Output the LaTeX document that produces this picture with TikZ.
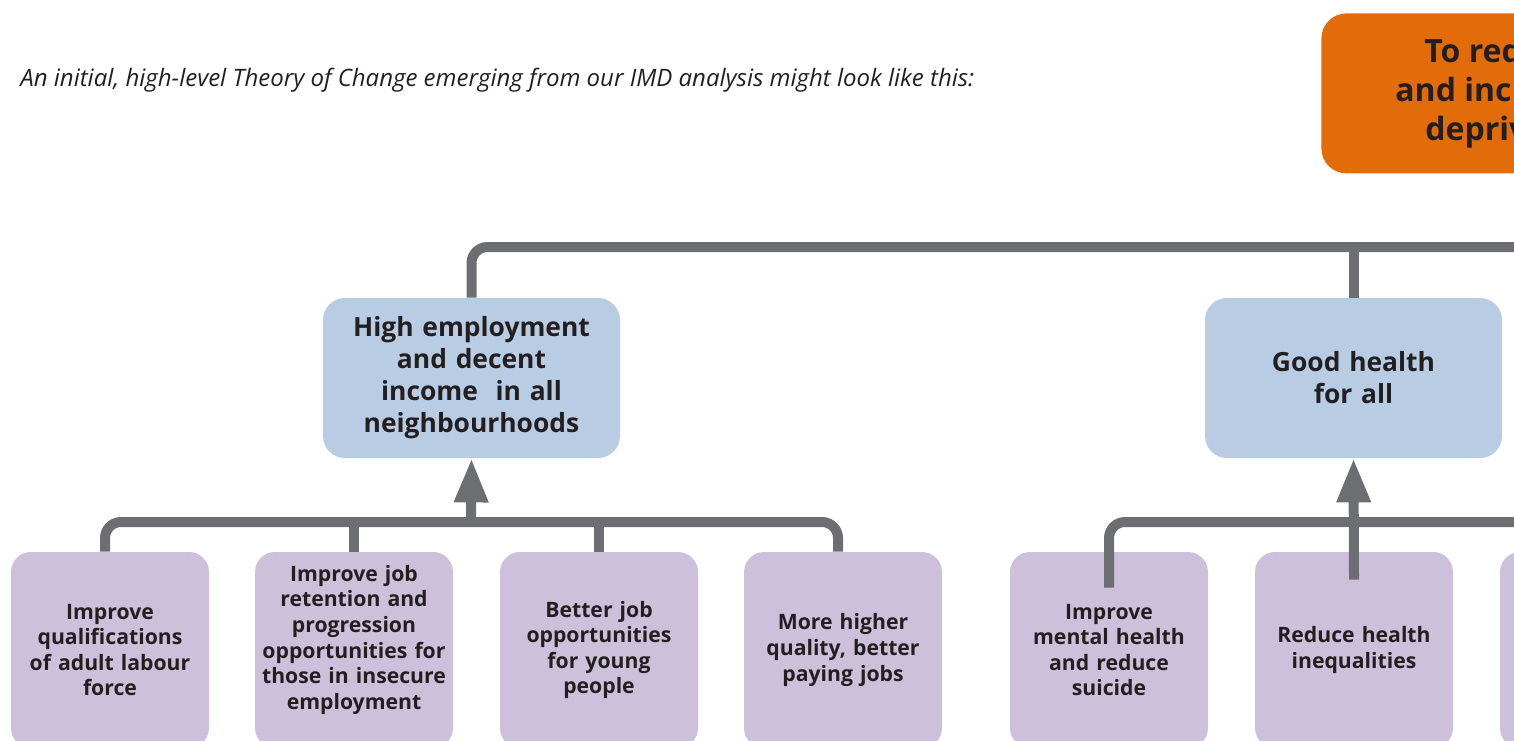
\documentclass[tikz,border=0pt]{standalone}
\usepackage{fontspec}
\setmainfont{Open Sans}
\usetikzlibrary{arrows.meta}
\definecolor{goal}{HTML}{E36C0A}
\definecolor{outcome}{HTML}{B8CCE4}
\definecolor{action}{HTML}{CCC0DA}
\definecolor{link}{HTML}{6D6E71}
\definecolor{ink}{HTML}{231F20}

\begin{document}
\begin{tikzpicture}[x=0.5pt,y=-0.5pt,
    every node/.style={text=ink},
    outbox/.style={fill=outcome,rounded corners=11pt,minimum width=148.5pt,minimum height=80pt,text width=140pt,inner xsep=4.25pt,align=center,font=\bfseries\fontsize{13.2}{16}\selectfont},
    actbox/.style={fill=action,rounded corners=10pt,minimum width=99pt,minimum height=98pt,text width=94pt,inner xsep=2.5pt,align=center,font=\bfseries\fontsize{10.6}{12.8}\selectfont},
    bar/.style={draw=link,line width=5pt,rounded corners=8pt},
    rise/.style={draw=link,line width=5pt,-{Triangle[length=22pt,width=16pt]}}
]
\useasboundingbox (0,0) rectangle (1514,740);
\clip (0,0) rectangle (1514,740);

% Intro line
\node[anchor=west,inner sep=0,font=\itshape\fontsize{12}{14}\selectfont] (intro) at (20,80) {An initial, high-level Theory of Change emerging from our IMD analysis might look like this:};

% Goal (cut off at the right)
\node[fill=goal,rounded corners=12.5pt,anchor=north west,minimum height=80pt,inner xsep=37pt,align=left,font=\bfseries\fontsize{16}{19.5}\selectfont] (goal) at (1321,13) {\hspace*{14.5pt}To red\\and incr\\\hspace*{15pt}depriv};

% Outcomes
\node[outbox] (emp)    at (471.5,378)  {High employment\\and decent\\income~ in all\\neighbourhoods};
\node[outbox] (health) at (1353.5,378) {Good health\\for all};

% Actions
\node[actbox] (q1) at (110,650)  {Improve\\qualifications\\of adult labour\\force};
\node[actbox] (q2) at (354,650)  {Improve job\\retention and\\progression\\opportunities for\\those in insecure\\employment\\\mbox{}};
\node[actbox] (q3) at (599,650)  {Better job\\opportunities\\for young\\people};
\node[actbox] (q4) at (843,650)  {More higher\\quality, better\\paying jobs};
\node[actbox] (h1) at (1109,650) {Improve\\mental health\\and reduce\\suicide};
\node[actbox] (h2) at (1354,650) {Reduce health\\inequalities};
\node[actbox] (h3) at (1599,650) {};

% Bars
\coordinate (top)  at (1530,247);
\coordinate (lowL) at (471,522);
\coordinate (lowR) at (1530,522);

\draw[bar] (emp.north) |- (top);
\draw[bar] (health.north) -- (health.north |- top);

\draw[bar] ([xshift=-2.5pt]q1.north) |- (lowL) -| ([xshift=-2.5pt]q4.north);
\draw[bar] (q2.north) -- (q2.north |- lowL);
\draw[bar] (q3.north) -- (q3.north |- lowL);
\draw[rise] (lowL) -- (emp.south);

\draw[bar] ([yshift=-18pt]h1.north) |- (lowR);
\draw[rise] ([yshift=-14pt]h2.north) -- (health.south);
\end{tikzpicture}
\end{document}
